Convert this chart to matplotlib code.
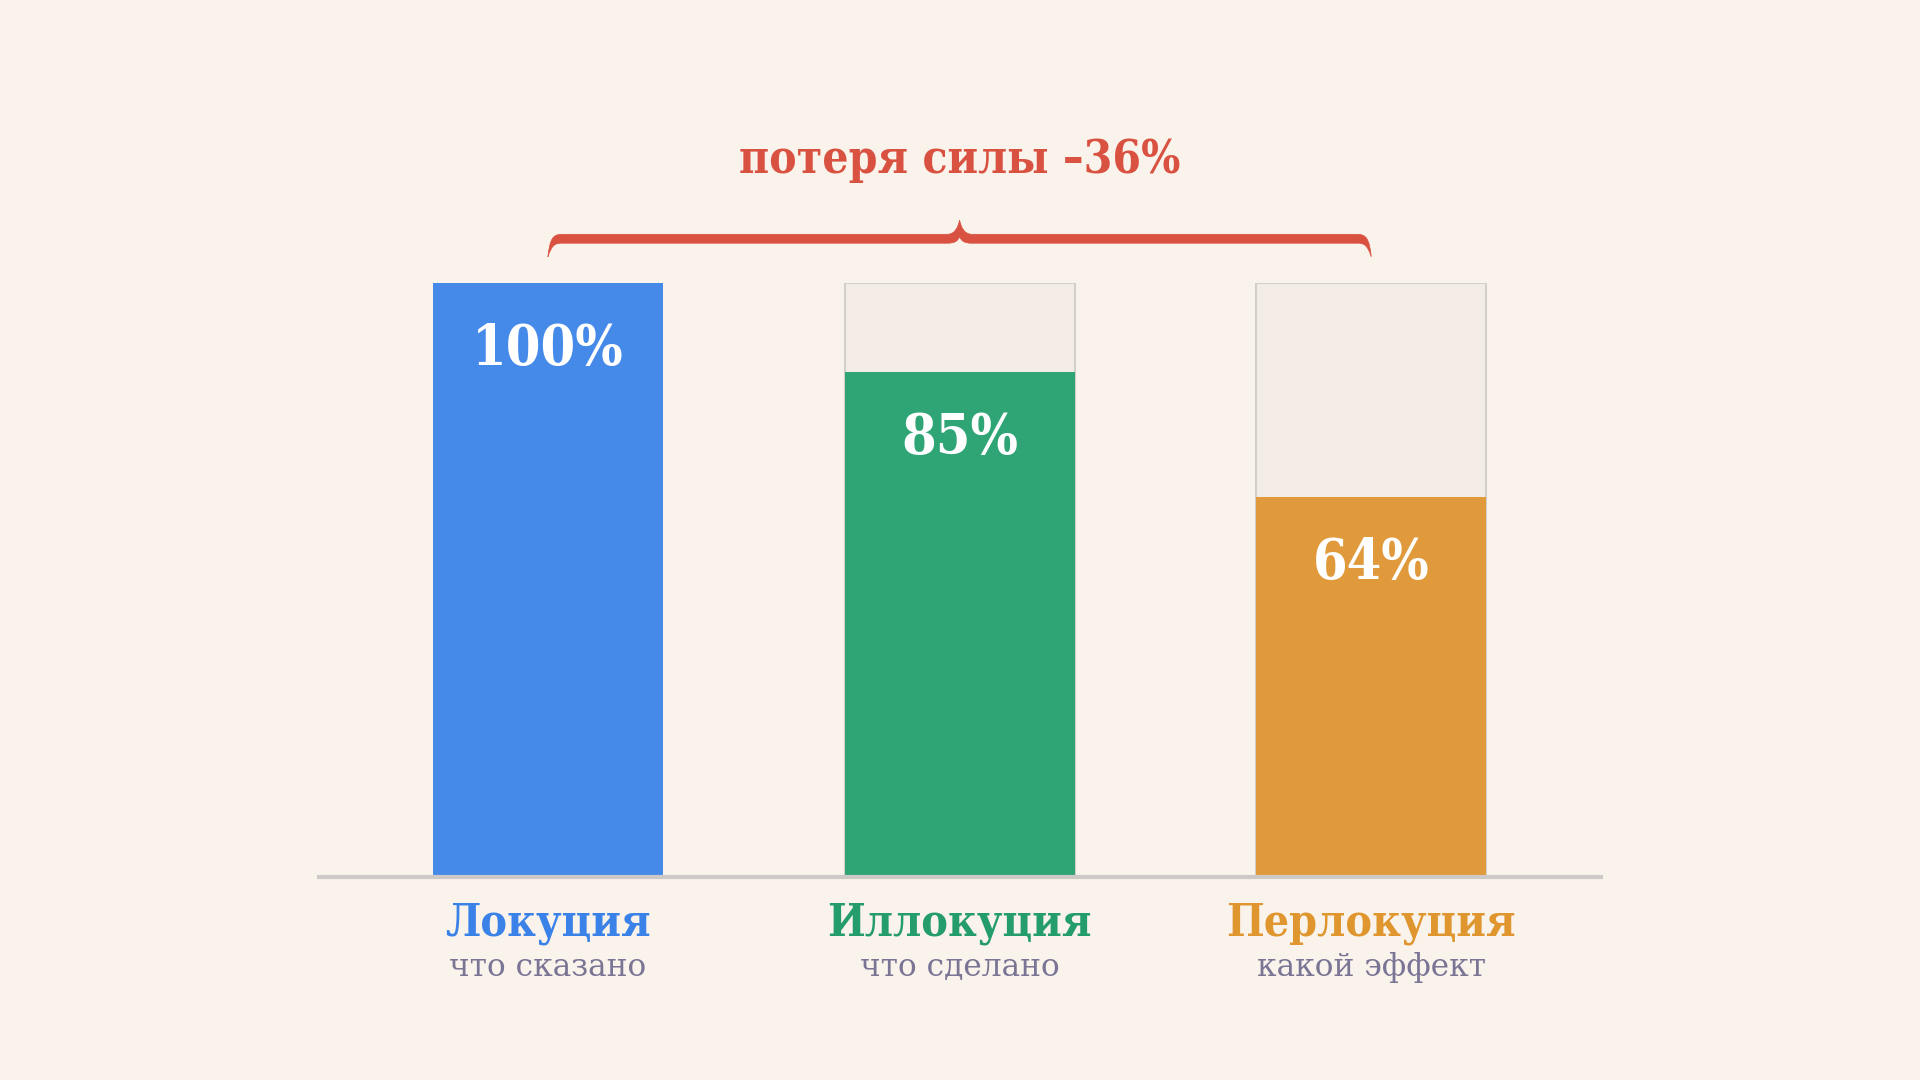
import numpy as np
import matplotlib.pyplot as plt
from matplotlib.path import Path
from matplotlib.patches import PathPatch

# данные
names = ["Локуция", "Иллокуция", "Перлокуция"]
subs = ["что сказано", "что сделано", "какой эффект"]
values = [100, 85, 64]
colors = ["#4589e9", "#2fa576", "#e09a3c"]
label_colors = ["#3b82e8", "#249c6c", "#e0962f"]
loss_text = "потеря силы –36%"

bg = "#faf3ec"
red = "#d95241"
serif = ["DejaVu Serif", "DejaVu Sans"]

fig = plt.figure(figsize=(19.2, 10.8), dpi=100, facecolor=bg)
ax = fig.add_axes([319 / 1920, 203 / 1080, 1282 / 1920, 594 / 1080])
ax.set_facecolor(bg)

x = np.arange(len(values))
w = 0.559
# серые "пустые" столбики до 100%
ax.bar(x[1:], [100] * (len(values) - 1), width=w, color="#f4ede6",
       edgecolor="#d3cfcb", linewidth=1.5, zorder=1)
ax.bar(x, values, width=w, color=colors, edgecolor="none", zorder=2)

ax.set_xlim(-0.556, 2.558)
ax.set_ylim(0, 100)
for s in ax.spines.values():
    s.set_visible(False)
ax.set_xticks([])
ax.set_yticks([])
ax.axhline(0, color="#cdc9c6", linewidth=3, zorder=3, clip_on=False)

for i, v in enumerate(values):
    ax.text(x[i], v - 13.8, f"{v}%", ha="center", va="baseline", color="white",
            fontsize=40, fontweight="bold", fontstretch="condensed",
            family=serif, zorder=4)
    ax.text(x[i], -9.9, names[i], ha="center", va="baseline", color=label_colors[i],
            fontsize=32, fontweight="bold", fontstretch="condensed",
            family=serif, clip_on=False)
    ax.text(x[i], -12.6, subs[i], ha="center", va="top", color="#7b7595",
            fontsize=22.5, family=serif, clip_on=False)

# фигурная скобка над первым и последним столбиком
x0, x1 = x[0], x[-1]
xm = (x0 + x1) / 2
top, bot = 108.2, 106.7
peak, end = 110.6, 104.4
r = 0.035
verts = [
    (x0, end),
    (x0 + 0.005, bot + 0.8), (x0 + 0.012, top), (x0 + r, top),
    (xm - 0.03, top),
    (xm - 0.01, top), (xm - 0.003, peak - 1.0), (xm, peak),
    (xm + 0.003, peak - 1.0), (xm + 0.01, top), (xm + 0.03, top),
    (x1 - r, top),
    (x1 - 0.012, top), (x1 - 0.005, bot + 0.8), (x1, end),
    (x1 - 0.01, bot - 0.2), (x1 - 0.018, bot), (x1 - r, bot),
    (xm + 0.03, bot),
    (xm + 0.012, bot), (xm + 0.005, bot + 0.3), (xm, bot + 1.1),
    (xm - 0.005, bot + 0.3), (xm - 0.012, bot), (xm - 0.03, bot),
    (x0 + r, bot),
    (x0 + 0.018, bot), (x0 + 0.01, bot - 0.2), (x0, end),
]
codes = [Path.MOVETO,
         Path.CURVE4, Path.CURVE4, Path.CURVE4,
         Path.LINETO,
         Path.CURVE4, Path.CURVE4, Path.CURVE4,
         Path.CURVE4, Path.CURVE4, Path.CURVE4,
         Path.LINETO,
         Path.CURVE4, Path.CURVE4, Path.CURVE4,
         Path.CURVE4, Path.CURVE4, Path.CURVE4,
         Path.LINETO,
         Path.CURVE4, Path.CURVE4, Path.CURVE4,
         Path.CURVE4, Path.CURVE4, Path.CURVE4,
         Path.LINETO,
         Path.CURVE4, Path.CURVE4, Path.CURVE4]
ax.add_patch(PathPatch(Path(verts, codes), facecolor=red, edgecolor=red,
                       linewidth=0.5, clip_on=False))

ax.text(xm, 118.5, loss_text, ha="center", va="baseline", color=red,
        fontsize=33, fontweight="bold", fontstretch="condensed",
        family=serif, clip_on=False)

fig.savefig("out.png", dpi=100, facecolor=bg)
